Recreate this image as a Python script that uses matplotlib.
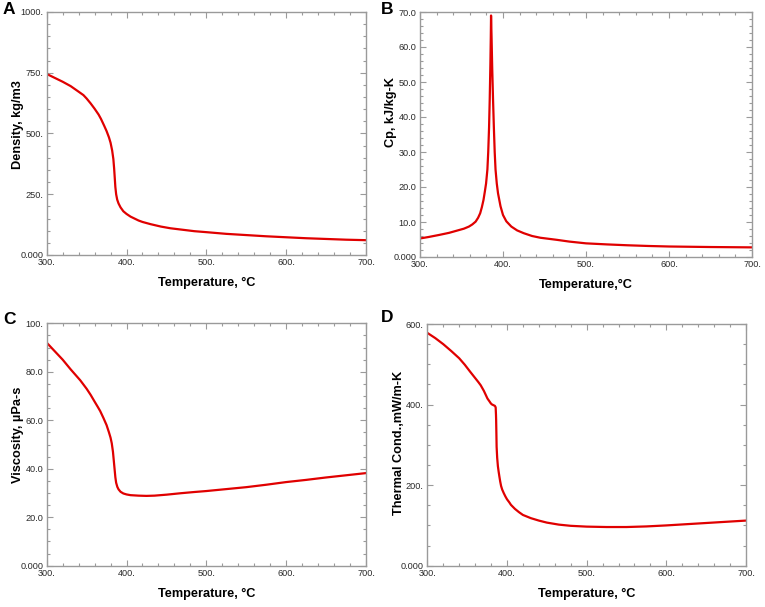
import matplotlib
matplotlib.use('Agg')
import matplotlib.pyplot as plt
from matplotlib.ticker import MultipleLocator, FixedLocator, FixedFormatter

plt.rcParams['font.family'] = ['Liberation Sans', 'DejaVu Sans']

# ---------------- data ----------------
x_ticks = [300, 400, 500, 600, 700]
x_tick_labels = ["300.", "400.", "500.", "600.", "700."]

temp_density = [300, 310, 320, 330, 340, 346, 350, 355, 360, 365, 368, 372, 375, 378, 380,
                382, 383.5, 384.5, 385.3, 386, 387, 388.3, 390, 392.5, 396, 400, 405, 410,
                415, 420, 430, 443, 455, 470, 485, 500, 525, 550, 575, 600, 625, 650, 675, 700]
density = [745, 729, 713, 695, 672, 658, 644, 624, 602, 578, 560, 532, 510, 484, 462,
           430, 395, 355, 315, 280, 250, 228, 212, 196, 180, 169, 158, 150,
           142, 136, 127, 117, 110, 104, 98, 94, 87, 82, 77, 73, 69, 66, 63, 61]
density_ticks = [0, 250, 500, 750, 1000]
density_tick_labels = ["0.000", "250.", "500.", "750.", "1000."]

temp_cp = [300, 310, 323, 335, 347, 353, 359, 363, 367, 370, 372.5, 374.5, 376.5, 378, 379.6,
           381.2, 382.2, 383.2, 384, 384.8, 385.3, 385.6, 386.2, 387, 388, 389, 390, 391,
           392.5, 394, 397, 400, 404, 410, 417, 425, 435, 445, 465, 480, 500, 525, 550,
           575, 600, 650, 700]
cp = [5.3, 5.7, 6.3, 6.9, 7.7, 8.1, 8.7, 9.3, 10.1, 11.2, 12.5, 14.2, 16.3, 18.5, 21,
      25, 30, 37, 45, 55, 63, 69, 63, 54, 45, 37, 30, 25,
      21, 18.2, 14.5, 12, 10.2, 8.7, 7.6, 6.8, 6.0, 5.5, 4.9, 4.4, 3.9, 3.6, 3.35,
      3.15, 3.0, 2.85, 2.75]
cp_ticks = [0, 10, 20, 30, 40, 50, 60, 70]
cp_tick_labels = ["0.000", "10.0", "20.0", "30.0", "40.0", "50.0", "60.0", "70.0"]

temp_visc = [300, 310, 320, 330, 342, 350, 355, 360, 364, 367, 371, 375, 378, 380, 381.5,
             383, 384, 385, 386, 387, 388.5, 390, 392.5, 396, 400, 405, 415, 425, 435,
             450, 468, 485, 500, 525, 550, 575, 600, 625, 650, 675, 700]
viscosity = [92, 88.5, 85, 81, 76.5, 73, 70.5, 67.7, 65.5, 63.8, 61, 58, 55, 52.8, 50.5,
             47, 43.5, 40, 36.5, 34.2, 32.5, 31.5, 30.5, 29.8, 29.4, 29.1, 28.9, 28.8, 28.9,
             29.3, 29.9, 30.4, 30.8, 31.6, 32.4, 33.4, 34.5, 35.4, 36.4, 37.3, 38.2]
visc_ticks = [0, 20, 40, 60, 80, 100]
visc_tick_labels = ["0.000", "20.0", "40.0", "60.0", "80.0", "100."]

temp_tc = [300, 310, 320, 330, 340, 347, 354, 360, 364, 367, 371, 375.5, 378, 379.7, 381,
           383, 384.8, 385.8, 386.2, 386.4, 386.7, 387, 387.7, 388.6, 389.5, 390.5, 391.5,
           392.6, 394, 396, 398, 400, 403, 405, 410, 415, 420, 430, 440, 450, 465, 480,
           500, 525, 550, 575, 600, 625, 650, 675, 700]
thermal_cond = [578, 565, 550, 533, 515, 499, 481, 466, 456, 448, 434, 415, 408, 403, 400.5,
                398.5, 396.8, 393, 375, 362, 330, 295, 268, 247, 234, 221, 209,
                198, 189, 180, 172, 165, 157, 151, 141, 133, 126, 118, 112, 107, 102, 99,
                97, 96, 96, 97.5, 100, 103, 106, 109, 112]
tc_ticks = [0, 200, 400, 600]
tc_tick_labels = ["0.000", "200.", "400.", "600."]

# ---------------- style ----------------
W, H = 765, 607
fig = plt.figure(figsize=(W / 100, H / 100), dpi=100)

red = '#e00000'
frame = '#9a9a9a'
tickc = '#9a9a9a'
labc = '#2a2a2a'


def rect(l, r, t, b):
    return [l / W, 1 - b / H, (r - l) / W, (b - t) / H]


panels = [
    dict(pos=rect(46.7, 366, 12, 255), x=temp_density, y=density, yt=density_ticks,
         ytl=density_tick_labels, ymax=1000, yminor=50, ylabel="Density, kg/m3",
         xlabel="Temperature, °C", ylc=(-0.09, 0.535), letter="A", lpos=(3, 9)),
    dict(pos=rect(420, 752, 12, 257), x=temp_cp, y=cp, yt=cp_ticks,
         ytl=cp_tick_labels, ymax=70, yminor=2, ylabel="Cp, kJ/kg-K",
         xlabel="Temperature,°C", ylc=(-0.086, 0.59), letter="B", lpos=(381, 10)),
    dict(pos=rect(46.7, 366, 323.3, 565.7), x=temp_visc, y=viscosity, yt=visc_ticks,
         ytl=visc_tick_labels, ymax=100, yminor=5, ylabel="Viscosity, µPa-s",
         xlabel="Temperature, °C", ylc=(-0.09, 0.54), letter="C", lpos=(3, 320)),
    dict(pos=rect(427.3, 746, 324, 565.7), x=temp_tc, y=thermal_cond, yt=tc_ticks,
         ytl=tc_tick_labels, ymax=600, yminor=50, ylabel="Thermal Cond.,mW/m-K",
         xlabel="Temperature, °C", ylc=(-0.09, 0.51), letter="D", lpos=(381, 318)),
]

for p in panels:
    ax = fig.add_axes(p['pos'])
    ax.plot(p['x'], p['y'], color=red, lw=1.6, solid_joinstyle='round')
    ax.set_xlim(300, 700)
    ax.set_ylim(0, p['ymax'])
    ax.xaxis.set_major_locator(FixedLocator(x_ticks))
    ax.xaxis.set_major_formatter(FixedFormatter(x_tick_labels))
    ax.xaxis.set_minor_locator(MultipleLocator(20))
    ax.yaxis.set_major_locator(FixedLocator(p['yt']))
    ax.yaxis.set_major_formatter(FixedFormatter(p['ytl']))
    ax.yaxis.set_minor_locator(MultipleLocator(p['yminor']))
    ax.tick_params(which='both', direction='in', top=True, right=True, color=tickc,
                   width=0.8)
    ax.tick_params(which='major', length=4.5, labelsize=6.6, labelcolor=labc, pad=2.5)
    ax.tick_params(which='minor', length=2.5)
    for s in ax.spines.values():
        s.set_color(frame)
        s.set_linewidth(1.0)
    ax.set_xlabel(p['xlabel'], fontsize=9.2, fontweight='bold', va='center')
    ax.xaxis.set_label_coords(0.5, -0.115)
    ax.set_ylabel(p['ylabel'], fontsize=9.2, fontweight='bold', va='center', ha='center')
    ax.yaxis.set_label_coords(*p['ylc'])
    fig.text(p['lpos'][0] / W, 1 - p['lpos'][1] / H, p['letter'], fontsize=12.5,
             fontweight='bold', ha='left', va='center')

fig.savefig('out.png', dpi=100)
